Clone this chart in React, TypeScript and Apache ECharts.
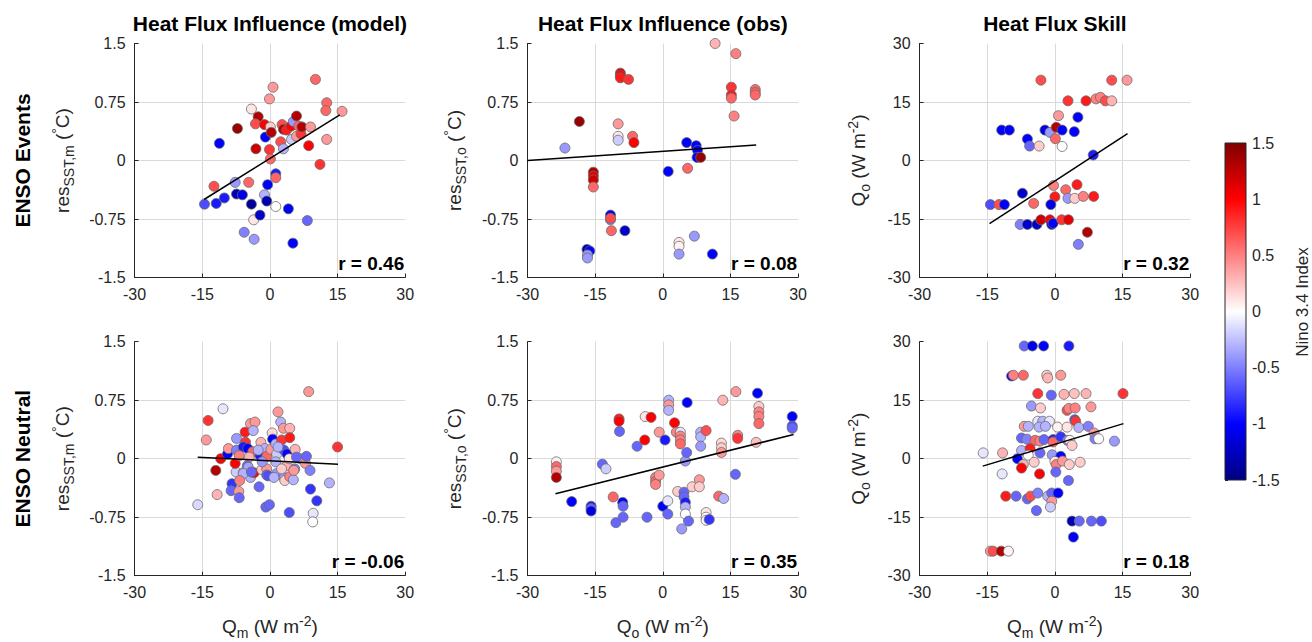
import React, { useEffect, useRef } from 'react';
import * as echarts from 'echarts';

const FONT = '"Liberation Sans", Arial, Helvetica, sans-serif';

// ---- Data: [flux, residual, Nino 3.4 index] ----
const eventsModel = [
  [-14.5,-0.56,-0.7],[-11.9,-0.55,-0.9],[-10.1,-0.48,-0.9],[-12.4,-0.33,0.7],[-11.2,0.22,-1.0],
  [-7.7,-0.28,-0.4],[-7.2,0.41,1.4],[-7.4,-0.43,-1.3],[-6.1,-0.44,-1.1],[-4.7,-0.28,0.6],
  [-5.7,-0.92,-0.5],[-4.1,0.66,0.1],[-2.6,0.56,1.3],[-3.2,0.47,0.7],[-3.1,0.15,1.2],
  [-4.1,-0.56,-1.4],[-3.6,-0.76,0.1],[-3.5,-1.01,-0.4],[-2.2,-0.70,-1.2],[-1.2,0.46,1.0],
  [-1.0,0.30,-1.0],[-1.2,-0.44,-0.3],[-0.7,-0.52,-1.3],[-0.5,-0.31,-1.0],[-0.1,0.14,0.8],
  [-0.1,0.79,0.4],[0.7,0.94,0.4],[0.1,0.43,0.2],[0.3,0.36,1.3],[0.1,0.02,0.6],
  [1.3,-0.17,-0.9],[1.3,-0.22,0.6],[1.3,-0.59,0.0],[2.4,0.24,0.7],[2.7,0.46,0.7],
  [3.0,0.40,1.3],[3.0,0.15,-0.3],[3.7,0.39,0.9],[4.7,0.44,1.0],[5.2,0.50,-0.4],
  [4.8,0.27,-0.2],[4.1,-0.62,-1.0],[5.1,-1.06,-1.0],[5.9,0.57,1.3],[5.9,0.31,0.4],
  [6.4,0.44,0.6],[6.9,0.34,0.8],[7.1,0.43,1.3],[8.6,0.19,1.0],[9.0,0.43,0.4],
  [8.3,-0.77,-0.6],[10.1,1.04,0.6],[11.1,-0.05,0.8],[12.6,0.74,0.6],[12.4,0.64,0.6],
  [12.6,0.27,0.4],[16.0,0.63,0.4],
];

const eventsObs = [
  [-21.7,0.16,-0.4],[-18.5,0.50,1.4],[-15.4,-0.15,1.3],[-15.4,-0.20,1.1],[-15.4,-0.25,1.2],
  [-15.4,-0.34,0.6],[-16.8,-1.14,-1.3],[-16.2,-1.16,-1.0],[-16.7,-1.21,-0.4],[-16.7,-1.25,-0.4],
  [-11.6,-0.70,-1.0],[-11.6,-0.76,-0.5],[-11.6,-0.74,0.7],[-11.4,-0.90,0.6],[-8.4,-0.90,-1.2],
  [-9.4,1.12,1.1],[-9.4,1.09,1.0],[-9.4,1.06,0.9],[-7.6,1.04,0.8],[-9.9,0.47,0.4],
  [-9.9,0.31,0.1],[-9.9,0.26,-0.2],[-6.7,0.31,0.6],[-6.4,0.23,1.0],[1.2,-0.14,-1.0],
  [3.6,-1.05,0.1],[3.6,-1.10,0.05],[3.6,-1.20,-0.4],[5.3,0.23,-1.0],[5.5,-0.10,0.6],
  [7.0,-0.97,-0.4],[7.4,0.19,-1.0],[7.7,0.13,-1.0],[7.6,0.04,-1.0],[8.4,0.04,1.4],
  [11.0,-1.20,-1.0],[11.6,1.50,0.3],[16.2,1.37,0.5],[15.2,0.94,0.8],[15.2,0.84,0.9],
  [15.2,0.80,0.6],[15.8,0.57,0.5],[20.5,0.91,0.6],[20.5,0.87,0.6],[20.5,0.84,0.6],
];

const eventsSkill = [
  [-3.1,20.6,0.7],[12.6,20.6,0.7],[16.0,20.6,0.4],[2.9,15.3,0.8],[6.9,15.3,0.9],
  [9.1,15.8,0.5],[10.1,16.2,0.5],[11.2,15.3,0.7],[12.6,15.3,0.3],[0.8,11.5,0.4],
  [5.1,11.1,-1.0],[-11.8,7.8,-1.0],[-10.1,7.8,-1.0],[-2.2,7.8,-1.1],[-1.1,7.2,-0.4],
  [0.3,8.5,1.3],[1.6,7.8,-1.0],[4.3,7.4,-1.0],[0.1,5.6,0.6],[-6.1,5.5,-1.0],
  [-5.6,3.7,-0.6],[-3.5,3.7,0.2],[1.6,3.6,0.0],[8.5,1.4,-0.9],[-7.2,-8.4,-1.2],
  [-0.3,-6.4,0.5],[2.4,-7.5,0.6],[4.9,-6.2,0.9],[0.0,-9.3,0.9],[2.9,-9.7,-0.4],
  [4.4,-9.7,0.2],[6.3,-9.2,0.5],[8.6,-9.2,0.9],[-14.3,-11.3,-0.7],[-12.4,-11.3,0.7],
  [-11.2,-11.3,-1.0],[-4.7,-11.0,0.6],[-0.9,-11.3,-1.1],[-7.7,-16.4,-0.5],[-6.1,-16.4,-1.2],
  [-4.0,-16.4,-1.2],[-3.1,-15.2,1.2],[-1.1,-15.2,1.0],[-0.7,-16.4,-1.2],[-0.4,-16.1,-1.0],
  [1.5,-15.2,0.8],[3.0,-15.2,1.1],[7.2,-18.4,1.3],[5.2,-21.5,-0.5],
];

const neutralModel = [
  [-16.0,-0.59,-0.15],[-14.1,0.24,0.4],[-13.7,0.49,0.8],[-10.4,0.64,-0.1],[-12.0,-0.15,1.3],
  [-11.7,-0.46,0.3],[-10.9,0.0,1.0],[-9.4,0.06,-1.0],[-9.2,0.13,0.4],[-8.4,-0.32,-0.8],
  [-8.6,-0.41,-0.6],[-6.9,-0.42,0.4],[-6.8,-0.50,-0.6],[-7.5,-0.17,-0.2],[-7.7,-0.06,1.0],
  [-7.4,0.11,-0.5],[-7.4,0.26,-0.4],[-5.5,0.34,0.9],[-5.4,0.21,0.8],[-5.9,0.15,-0.9],
  [-6.8,0.04,0.5],[-4.9,0.13,-1.0],[-4.3,0.45,0.4],[-3.3,0.47,0.4],[-3.7,0.36,-0.3],
  [-3.8,0.09,0.6],[-4.6,0.02,0.3],[-5.0,-0.09,-0.6],[-5.9,-0.18,-0.1],[-4.3,-0.24,-0.3],
  [-3.5,-0.18,1.0],[-2.4,-0.36,-0.6],[-2.0,0.21,0.3],[-2.2,0.04,-0.9],[-1.8,-0.14,0.2],
  [-1.1,0.13,-0.3],[-0.7,0.03,0.6],[-0.7,-0.13,0.4],[-0.7,-0.21,-0.6],[-0.9,-0.62,-0.6],
  [-0.1,-0.59,-0.6],[0.5,0.33,0.15],[0.6,0.25,-1.0],[0.2,0.12,0.4],[1.3,0.19,-0.3],
  [1.5,0.06,-0.2],[1.3,-0.04,-0.3],[1.5,-0.19,-0.4],[1.8,0.60,0.4],[2.4,0.47,-0.3],
  [2.6,0.24,0.8],[3.0,0.39,0.4],[3.1,0.11,-0.7],[3.1,-0.24,-0.4],[3.3,-0.28,0.2],
  [3.7,-0.09,0.3],[3.8,0.06,-1.0],[4.4,0.39,0.3],[4.4,0.27,0.9],[4.3,0.0,0.1],
  [4.4,-0.23,0.5],[4.3,-0.69,-0.7],[5.2,-0.27,-0.3],[5.6,0.12,0.3],[5.5,-0.13,-0.5],
  [6.7,0.0,0.2],[7.9,-0.06,0.4],[8.1,0.03,-0.6],[8.6,0.86,0.4],[8.9,-0.15,-0.5],
  [9.0,-0.39,-0.8],[9.6,-0.70,-0.1],[9.5,-0.81,0.0],[10.4,-0.54,-0.8],[13.2,-0.31,-0.3],
  [15.0,0.15,0.8],[-4.8,-0.11,-0.35],[-1.7,-0.04,-0.4],[-0.4,-0.22,-0.7],[-2.6,0.11,-0.3],
  [1.8,0.15,-0.3],[5.9,0.02,-0.6],[0.9,-0.24,-0.3],[-5.9,-0.19,-0.3],[-4.1,-0.17,-0.6],
  [2.6,-0.13,0.2],[5.3,-0.15,0.4],[-6.7,-0.28,0.5],
];

const neutralObs = [
  [-23.6,-0.04,0.05],[-23.6,-0.10,0.6],[-23.6,-0.16,0.4],[-23.6,-0.24,1.3],[-20.2,-0.55,-1.0],
  [-15.9,-0.61,-0.9],[-15.9,-0.64,-0.6],[-15.9,-0.67,-1.1],[-13.4,-0.07,-0.6],[-12.6,-0.13,-0.2],
  [-11.0,-0.49,0.6],[-10.4,-0.82,-0.6],[-9.7,0.51,0.9],[-9.7,0.48,1.0],[-9.6,0.35,-0.6],
  [-8.9,-0.56,-1.0],[-8.8,-0.61,-0.6],[-8.8,-0.75,-0.6],[-5.7,0.16,-0.6],[-4.0,0.24,1.0],
  [-3.9,0.54,0.1],[-2.6,0.53,1.0],[-3.5,-0.75,-0.6],[-1.6,-0.24,0.5],[-1.6,-0.29,0.6],
  [-1.6,-0.33,0.5],[-0.8,-0.21,0.4],[-0.8,0.34,0.4],[0.0,-0.61,-1.0],[0.5,0.24,-0.9],
  [1.1,-0.54,-0.1],[1.1,-0.71,-0.6],[1.3,0.75,-0.3],[1.3,0.69,0.4],[1.3,0.62,-0.3],
  [2.6,0.46,1.0],[3.0,0.34,0.5],[3.3,-0.42,0.2],[3.9,0.34,-0.1],[3.9,0.29,0.5],
  [3.9,0.24,0.5],[3.9,0.19,0.6],[4.2,-0.90,-0.4],[4.7,-0.43,-0.6],[4.7,-0.49,-0.6],
  [5.0,-0.56,-0.9],[5.0,-0.62,-0.3],[5.0,-0.71,0.0],[5.0,-0.03,-0.4],[5.3,0.08,-0.6],
  [5.4,0.72,-1.0],[5.7,-0.80,-0.6],[6.5,-0.36,0.2],[8.1,-0.27,0.4],[8.1,-0.36,0.2],
  [8.4,0.34,-0.3],[8.4,0.28,-0.3],[8.4,0.16,-0.4],[9.6,0.36,0.7],[9.6,-0.69,0.1],
  [9.6,-0.75,0.0],[9.6,-0.79,0.05],[10.3,-0.78,-0.8],[13.0,0.20,0.15],[13.0,0.14,0.2],
  [13.0,0.08,0.4],[13.3,0.75,0.3],[12.4,-0.48,0.6],[13.5,-0.51,-0.3],[16.1,-0.20,-0.6],
  [16.2,0.86,0.4],[16.6,0.30,0.5],[16.6,0.26,0.8],[20.7,0.21,0.25],[21.0,0.84,-1.0],
  [21.3,0.67,0.2],[21.3,0.60,0.5],[21.3,0.54,0.5],[21.3,0.45,0.6],[28.7,0.54,-1.0],
  [28.7,0.42,-0.7],[28.7,0.39,-0.6],
];

const neutralSkill = [
  [-6.8,28.9,-0.6],[-5.0,28.9,-1.1],[-2.5,28.9,-1.0],[3.1,28.9,-0.9],[-9.6,21.2,-1.0],
  [-9.2,21.4,0.5],[-7.0,21.4,0.6],[-1.8,21.4,0.2],[-1.6,20.7,0.3],[1.3,21.4,0.4],
  [-3.8,16.7,0.8],[-0.8,16.3,-0.6],[2.0,16.5,0.3],[4.3,16.7,0.25],[6.9,16.7,0.3],
  [15.1,16.7,0.8],[-5.2,13.5,-0.4],[-3.2,13.0,0.2],[2.7,12.4,0.7],[3.1,12.9,0.5],
  [4.5,13.0,0.5],[8.0,13.3,0.4],[4.4,10.0,-0.7],[4.6,9.6,0.8],[-3.8,9.6,-0.1],
  [-2.7,9.6,-0.3],[-1.2,9.6,-0.1],[-6.8,8.3,0.4],[-5.9,8.3,-0.3],[-3.5,8.1,-0.3],
  [-2.1,8.3,-0.3],[0.6,8.1,0.05],[2.7,8.1,0.1],[5.3,8.0,-0.3],[7.4,8.3,-0.5],
  [8.7,6.6,0.4],[8.9,5.1,-0.5],[9.7,5.1,0.0],[13.2,4.5,-0.4],[-7.4,5.3,-0.6],
  [-6.2,5.0,-0.5],[-4.4,4.7,0.6],[-3.3,4.5,0.5],[-2.4,4.9,-0.6],[-0.4,4.9,-0.9],
  [-0.4,4.3,0.6],[1.3,5.6,-0.8],[2.8,4.7,-0.5],[3.3,4.7,0.05],[3.8,3.4,0.2],
  [-15.9,1.5,-0.1],[-11.6,1.5,0.3],[-7.4,2.1,-0.3],[-5.5,2.6,0.9],[-5.9,0.9,0.0],
  [-3.3,1.5,-0.6],[-8.3,0.0,-1.0],[-7.0,-1.5,0.3],[-7.4,-2.4,1.0],[-4.6,-0.9,0.2],
  [-3.4,-3.9,1.0],[-11.7,-3.9,-0.1],[-0.6,1.0,-0.4],[1.3,0.6,-1.0],[0.0,-0.7,0.1],
  [0.3,-1.5,0.5],[1.7,-0.6,0.4],[3.2,-1.5,0.2],[5.6,-0.9,0.2],[0.2,-3.4,-0.6],
  [3.0,-5.6,-0.6],[-10.9,-9.6,0.9],[-8.6,-9.6,-0.6],[-6.1,-10.3,-0.6],[-5.4,-9.6,0.7],
  [-3.8,-8.8,-0.5],[-4.1,-13.3,-0.6],[-1.6,-9.6,-0.3],[-0.7,-8.8,-0.6],[0.7,-8.8,-1.0],
  [-0.7,-10.9,0.4],[-1.0,-12.4,-0.2],[3.8,-16.0,-1.3],[5.4,-16.0,-0.6],[8.1,-16.0,-0.6],
  [10.3,-16.0,-0.7],[4.1,-20.1,-1.0],[-14.3,-23.7,0.4],[-13.7,-23.7,0.7],[-11.9,-23.7,1.3],
  [-10.3,-23.7,0.05],
];

// Regression line end points
const fitEventsModel = [[-14.6,-0.50],[15.5,0.585]];
const fitEventsObs = [[-30,0.0],[20.7,0.20]];
const fitEventsSkill = [[-14.5,-16.2],[16.1,6.9]];
const fitNeutralModel = [[-16.0,0.02],[15.1,-0.07]];
const fitNeutralObs = [[-23.8,-0.45],[29.0,0.31]];
const fitNeutralSkill = [[-16.0,-1.9],[15.2,9.0]];

const rLabels = ['r = 0.46','r = 0.08','r = 0.32','r = -0.06','r = 0.35','r = 0.18'];
const columnTitles = ['Heat Flux Influence (model)','Heat Flux Influence (obs)','Heat Flux Skill'];
const rowTitles = ['ENSO Events','ENSO Neutral'];
const colorbarTitle = 'Nino 3.4 Index';

const panels = [eventsModel, eventsObs, eventsSkill, neutralModel, neutralObs, neutralSkill];
const fits = [fitEventsModel, fitEventsObs, fitEventsSkill, fitNeutralModel, fitNeutralObs, fitNeutralSkill];

const resName = (sub: string) => `{a|res}{b|${sub}}{a| (}{c|°}{a|C)}`;
const fluxName = (sub: string) => `{a|Q}{b|${sub}}{a| (W m}{c|-2}{a|)}`;
const yNames = [resName('SST,m'), resName('SST,o'), fluxName('o'), resName('SST,m'), resName('SST,o'), fluxName('o')];
const xNames = ['', '', '', fluxName('m'), fluxName('o'), fluxName('m')];

const cmap = ['#000080','#0000ff','#8080ff','#ffffff','#ff8080','#ff0000','#800000'];

// Layout
const colLeft = [134.6, 527.5, 919.6];
const colW = 270.6;
const rowTop = [43.5, 341.7];
const rowH = 234;
const yNameGap = [59, 60, 48];

const TXT = '#262626';

const rich = {
  a: { fontSize: 19, lineHeight: 26, fontFamily: FONT, color: TXT },
  b: { fontSize: 14, lineHeight: 12, verticalAlign: 'bottom', fontFamily: FONT, color: TXT },
  c: { fontSize: 14, lineHeight: 13, verticalAlign: 'top', fontFamily: FONT, color: TXT },
};

export default function App() {
  const ref = useRef<HTMLDivElement>(null);
  useEffect(() => {
    if (!ref.current) return;
    const chart = echarts.init(ref.current, undefined, { renderer: 'svg' });
    const grids: any[] = [];
    const xAxes: any[] = [];
    const yAxes: any[] = [];
    const series: any[] = [];
    const graphics: any[] = [];

    for (let i = 0; i < 6; i++) {
      const row = Math.floor(i / 3);
      const col = i % 3;
      grids.push({ left: colLeft[col], top: rowTop[row], width: colW, height: rowH });
      const isFlux = col === 2;
      xAxes.push({
        gridIndex: i, type: 'value', min: -30, max: 30, interval: 15,
        name: xNames[i], nameLocation: 'middle', nameGap: 38,
        nameTextStyle: { rich },
        axisLine: { show: true, onZero: false, lineStyle: { color: TXT, width: 1 } },
        axisTick: { show: true, inside: true, length: 4, lineStyle: { color: TXT } },
        axisLabel: { fontSize: 16, color: TXT, fontFamily: FONT, margin: 9 },
        splitLine: { show: true, showMinLine: false, showMaxLine: false, lineStyle: { color: '#dadada', width: 1 } },
      });
      yAxes.push({
        gridIndex: i, type: 'value',
        min: isFlux ? -30 : -1.5, max: isFlux ? 30 : 1.5, interval: isFlux ? 15 : 0.75,
        name: yNames[i], nameLocation: 'middle', nameRotate: 90, nameGap: yNameGap[col],
        nameTextStyle: { rich },
        axisLine: { show: true, onZero: false, lineStyle: { color: TXT, width: 1 } },
        axisTick: { show: true, inside: true, length: 4, lineStyle: { color: TXT } },
        axisLabel: { fontSize: 16, color: TXT, fontFamily: FONT, margin: 9 },
        splitLine: { show: true, showMinLine: false, showMaxLine: false, lineStyle: { color: '#dadada', width: 1 } },
      });
      series.push({
        type: 'scatter', xAxisIndex: i, yAxisIndex: i, data: panels[i],
        symbolSize: 10, clip: false, z: 2,
        itemStyle: { borderColor: '#6a6a6a', borderWidth: 0.8, opacity: 1 },
      });
      graphics.push({
        type: 'text', x: colLeft[col] + colW - 1, y: rowTop[row] + rowH - 14, z: 10,
        style: { text: rLabels[i], fontSize: 19, fontWeight: 'bold', fontFamily: FONT, fill: '#000',
          align: 'right', textAlign: 'right', verticalAlign: 'middle', textVerticalAlign: 'middle' },
      });
    }
    for (let i = 0; i < 6; i++) {
      series.push({
        type: 'line', xAxisIndex: i, yAxisIndex: i, data: fits[i], symbol: 'none', silent: true, z: 3,
        lineStyle: { color: '#000', width: 1.5 },
      });
    }
    // colour bar axis
    grids.push({ left: 1225, top: 143, width: 21, height: 337 });
    xAxes.push({ gridIndex: 6, type: 'value', min: 0, max: 1, show: false });
    yAxes.push({
      gridIndex: 6, type: 'value', position: 'right', min: -1.5, max: 1.5, interval: 0.5,
      axisLine: { show: false },
      axisTick: { show: true, inside: false, length: 3, lineStyle: { color: TXT } },
      axisLabel: { fontSize: 16, color: TXT, fontFamily: FONT, margin: 6 },
      splitLine: { show: false },
    });

    columnTitles.forEach((t, c) => {
      graphics.push({
        type: 'text', x: colLeft[c] + colW / 2, y: 23,
        style: { text: t, fontSize: 21, fontWeight: 'bold', fontFamily: FONT, fill: '#000',
          align: 'center', textAlign: 'center', verticalAlign: 'middle', textVerticalAlign: 'middle' },
      });
    });
    rowTitles.forEach((t, r) => {
      graphics.push({
        type: 'text', x: 22, y: rowTop[r] + rowH / 2, rotation: Math.PI / 2,
        style: { text: t, fontSize: 21, fontWeight: 'bold', fontFamily: FONT, fill: '#000',
          align: 'center', textAlign: 'center', verticalAlign: 'middle', textVerticalAlign: 'middle' },
      });
    });
    graphics.push({
      type: 'text', x: 1302, y: 302, rotation: Math.PI / 2,
      style: { text: colorbarTitle, fontSize: 17, fontFamily: FONT, fill: TXT,
        align: 'center', textAlign: 'center', verticalAlign: 'middle', textVerticalAlign: 'middle' },
    });
    graphics.push({
      type: 'rect', z: 1,
      shape: { x: 1225, y: 143, width: 21, height: 337 },
      style: {
        fill: new echarts.graphic.LinearGradient(0, 0, 0, 1, [
          { offset: 0, color: '#800000' },
          { offset: 1 / 6, color: '#ff0000' },
          { offset: 0.5, color: '#ffffff' },
          { offset: 5 / 6, color: '#0000ff' },
          { offset: 1, color: '#000080' },
        ]),
        stroke: TXT, lineWidth: 1,
      },
    });

    chart.setOption({
      animation: false,
      backgroundColor: '#ffffff',
      grid: grids,
      xAxis: xAxes,
      yAxis: yAxes,
      visualMap: {
        type: 'continuous', show: false, min: -1.5, max: 1.5, dimension: 2,
        seriesIndex: [0, 1, 2, 3, 4, 5],
        inRange: { color: cmap },
      },
      series,
      graphic: graphics,
    });
    return () => chart.dispose();
  }, []);
  return (
    <div
      ref={ref}
      style={{ position: 'fixed', left: 0, top: 0, width: '1312px', height: '642px', background: '#fff' }}
    />
  );
}
